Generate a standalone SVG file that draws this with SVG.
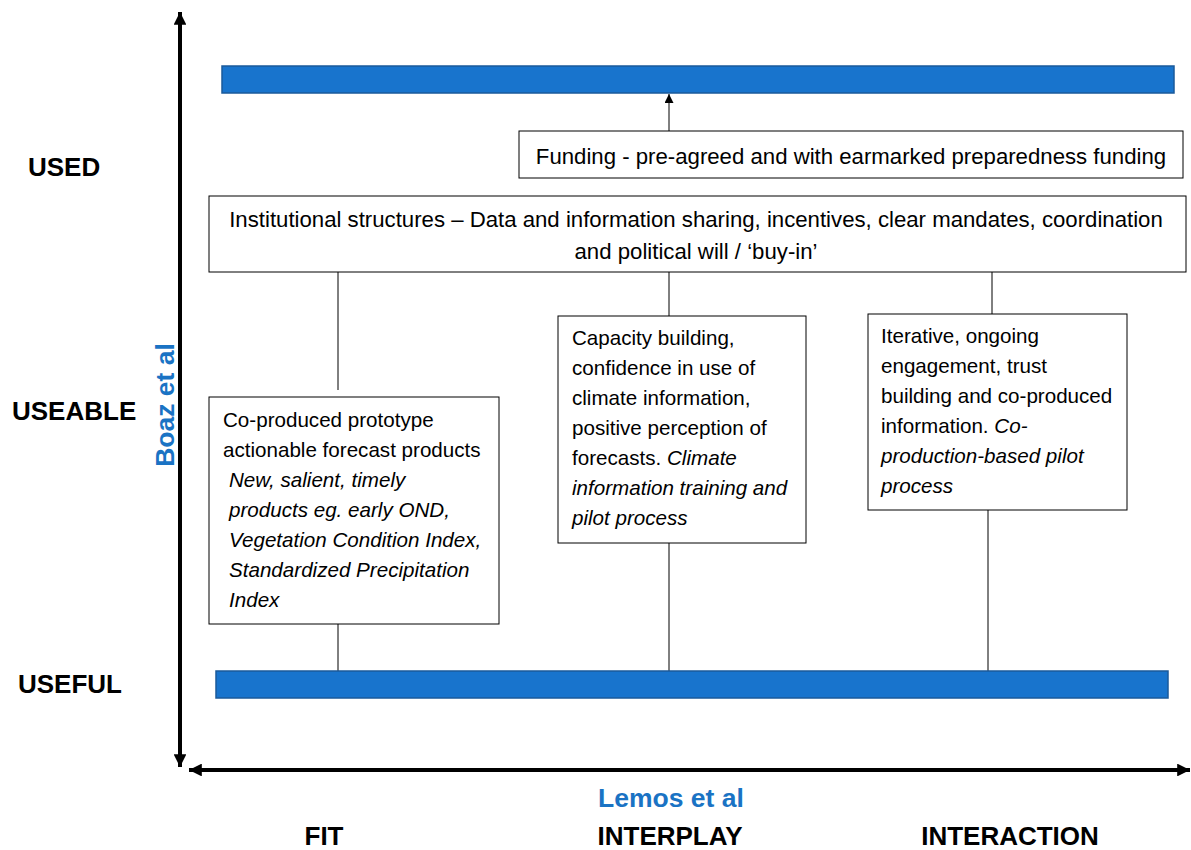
<svg xmlns="http://www.w3.org/2000/svg" width="1191" height="850" viewBox="0 0 1191 850">
<style>
.box{fill:#fff;stroke:#000;stroke-width:1}
.bar{fill:#1874cd;stroke:#1a5a9a;stroke-width:1.5}
.t{font-family:"Liberation Sans",Arial,sans-serif;font-size:20.6px;fill:#000}
.w{font-family:"Liberation Sans",Arial,sans-serif;font-size:22.2px;fill:#000}
.i{font-style:italic}
.lab{font-family:"Liberation Sans",Arial,sans-serif;font-size:26px;font-weight:bold;fill:#000}
.blue{font-family:"Liberation Sans",Arial,sans-serif;font-size:26.5px;font-weight:bold;fill:#1a73c4}
.ln{stroke:#000;stroke-width:1;fill:none}
.ax{stroke:#000;stroke-width:4;fill:none}
</style>
<defs>
<marker id="ah" viewBox="0 0 10 10" refX="10" refY="5" markerWidth="3.2" markerHeight="3.2" orient="auto-start-reverse" markerUnits="strokeWidth"><path d="M0,0L10,5L0,10z" fill="#000"/></marker>
<marker id="sa" viewBox="0 0 10 10" refX="10" refY="5" markerWidth="9" markerHeight="9" orient="auto" markerUnits="userSpaceOnUse"><path d="M0,0L10,5L0,10z" fill="#000"/></marker>
</defs>
<g id="axes">
<line class="ax" x1="180" y1="767" x2="180" y2="12" marker-start="url(#ah)" marker-end="url(#ah)"/>
<line class="ax" x1="189" y1="770" x2="1190" y2="770" marker-start="url(#ah)" marker-end="url(#ah)"/>
</g>
<g id="labels">
<text class="lab" x="28" y="176">USED</text>
<text class="lab" x="12" y="420">USEABLE</text>
<text class="lab" x="18" y="693">USEFUL</text>
<text class="lab" x="324" y="845" text-anchor="middle">FIT</text>
<text class="lab" x="670" y="845" text-anchor="middle">INTERPLAY</text>
<text class="lab" x="1010" y="845" text-anchor="middle">INTERACTION</text>
<text class="blue" x="671" y="807" text-anchor="middle">Lemos et al</text>
<text class="blue" transform="translate(174,405) rotate(-90)" text-anchor="middle">Boaz et al</text>
</g>
<g id="connectors">
<line class="ln" x1="669" y1="131" x2="669" y2="94" marker-end="url(#sa)"/>
<line class="ln" x1="338" y1="272" x2="338" y2="390"/>
<line class="ln" x1="338" y1="624" x2="338" y2="671"/>
<line class="ln" x1="669" y1="272" x2="669" y2="316"/>
<line class="ln" x1="669" y1="543" x2="669" y2="671"/>
<line class="ln" x1="992" y1="272" x2="992" y2="314"/>
<line class="ln" x1="988" y1="510" x2="988" y2="671"/>
</g>
<g id="top-bar"><rect class="bar" x="222" y="66" width="952" height="27"/></g>
<g id="bottom-bar"><rect class="bar" x="216" y="671" width="952" height="27"/></g>
<g id="funding">
<rect class="box" x="519" y="131" width="664" height="47"/>
<text class="w" x="851" y="164" text-anchor="middle">Funding - pre-agreed and with earmarked preparedness funding</text>
</g>
<g id="institutional">
<rect class="box" x="209" y="196" width="977" height="76"/>
<text class="w" x="696" y="227" text-anchor="middle">Institutional structures – Data and information sharing, incentives, clear mandates, coordination</text>
<text class="w" x="696" y="259" text-anchor="middle">and political will / ‘buy-in’</text>
</g>
<g id="fit-box">
<rect class="box" x="209" y="397" width="290" height="227"/>
<text class="t" x="223" y="427">Co-produced prototype</text>
<text class="t" x="223" y="457">actionable forecast products</text>
<text class="t i" x="229" y="487">New, salient, timely</text>
<text class="t i" x="229" y="517">products eg. early OND,</text>
<text class="t i" x="229" y="547">Vegetation Condition Index,</text>
<text class="t i" x="229" y="577">Standardized Precipitation</text>
<text class="t i" x="229" y="607">Index</text>
</g>
<g id="interplay-box">
<rect class="box" x="558" y="316" width="248" height="227"/>
<text class="t" x="572" y="345">Capacity building,</text>
<text class="t" x="572" y="375">confidence in use of</text>
<text class="t" x="572" y="405">climate information,</text>
<text class="t" x="572" y="435">positive perception of</text>
<text class="t" x="572" y="465">forecasts. <tspan class="i">Climate</tspan></text>
<text class="t i" x="572" y="495">information training and</text>
<text class="t i" x="572" y="525">pilot process</text>
</g>
<g id="interaction-box">
<rect class="box" x="868" y="314" width="259" height="196"/>
<text class="t" x="881" y="343">Iterative, ongoing</text>
<text class="t" x="881" y="373">engagement, trust</text>
<text class="t" x="881" y="403">building and co-produced</text>
<text class="t" x="881" y="433">information. <tspan class="i">Co-</tspan></text>
<text class="t i" x="881" y="463">production-based pilot</text>
<text class="t i" x="881" y="493">process</text>
</g>
</svg>
